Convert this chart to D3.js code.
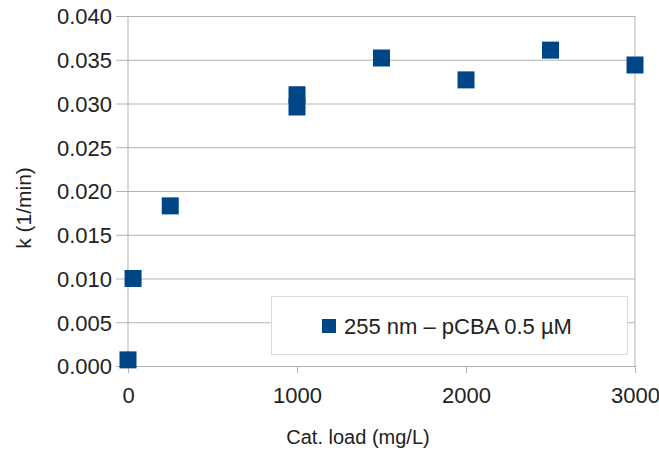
<!DOCTYPE html>
<html>
<head>
<meta charset="utf-8">
<script src="https://cdn.jsdelivr.net/npm/d3@7"></script>
<style>
  body { margin: 0; background: #fff; }
  text { font-family: "Liberation Sans", Arial, sans-serif; fill: #222; }
</style>
</head>
<body>
<div id="chart"></div>
<script>
const WIDTH = 659, HEIGHT = 450;
const margin = {top: 16, right: 24, bottom: 84, left: 128};

// data
const catLoad = [0, 30, 250, 1000, 1000, 1500, 2000, 2500, 3000];
const kValues = [0.0007, 0.0100, 0.0183, 0.0310, 0.0296, 0.0352, 0.0327, 0.0361, 0.0344];
const xTicks = [0, 1000, 2000, 3000];
const yTicks = [0, 0.005, 0.010, 0.015, 0.020, 0.025, 0.030, 0.035, 0.040];
const seriesName = "255 nm \u2013 pCBA 0.5 \u00b5M";

const MARK_COLOR = '#004586';
const GRID_COLOR = '#b3b3b3';
const MARK_SIZE = 17;

let plot_w = WIDTH - margin.left - margin.right;
let plot_h = HEIGHT - margin.top - margin.bottom;

let svg = d3.select("#chart")
    .append("svg")
    .attr("width", WIDTH)
    .attr("height", HEIGHT)
    .append("g")
    .attr("transform", `translate(${margin.left}, ${margin.top})`);

let x = d3.scaleLinear().domain([0, 3000]).range([0, plot_w]);
let y = d3.scaleLinear().domain([0, 0.04]).range([plot_h, 0]);

// horizontal grid + y tick labels
let yAxis = svg.append("g")
    .call(d3.axisLeft(y).tickValues(yTicks).tickSize(-plot_w).tickSizeOuter(0)
        .tickFormat(d3.format(".3f")).tickPadding(16));
yAxis.select(".domain").remove();
yAxis.selectAll("line").attr("stroke", GRID_COLOR).attr("x1", -12).attr("x2", plot_w);
yAxis.selectAll("text").style("font-size", "22px").attr("dy", "0.36em");

// x axis ticks
let xAxis = svg.append("g")
    .attr("transform", `translate(0, ${plot_h})`)
    .call(d3.axisBottom(x).tickValues(xTicks).tickSize(7).tickSizeOuter(0)
        .tickFormat(d3.format("d")).tickPadding(14));
xAxis.select(".domain").remove();
xAxis.selectAll("line").attr("stroke", GRID_COLOR);
xAxis.selectAll("text").style("font-size", "22px");

// left axis line and right border
svg.append("line")
    .attr("x1", x(0)).attr("x2", x(0)).attr("y1", 0).attr("y2", plot_h)
    .attr("stroke", GRID_COLOR);
svg.append("line")
    .attr("x1", x(3000)).attr("x2", x(3000)).attr("y1", 0).attr("y2", plot_h)
    .attr("stroke", GRID_COLOR);

// legend
let legend = svg.append("g");
legend.append("rect")
    .attr("x", 271.5 - margin.left).attr("y", 296.5 - margin.top)
    .attr("width", 356).attr("height", 58)
    .attr("fill", "#fff").attr("stroke", "#dadada");
legend.append("rect")
    .attr("x", 322 - margin.left).attr("y", 319 - margin.top)
    .attr("width", 14).attr("height", 14)
    .attr("fill", MARK_COLOR);
legend.append("text")
    .attr("x", 344 - margin.left).attr("y", 326 - margin.top)
    .attr("dy", "0.36em")
    .style("font-size", "22px")
    .text(seriesName);

// points
let pts = catLoad.map((c, i) => ({x: c, k: kValues[i]}));
svg.selectAll("rect.pt").data(pts).enter()
    .append("rect")
    .attr("class", "pt")
    .attr("x", d => x(d.x) - MARK_SIZE / 2)
    .attr("y", d => y(d.k) - MARK_SIZE / 2)
    .attr("width", MARK_SIZE)
    .attr("height", MARK_SIZE)
    .attr("fill", MARK_COLOR);

// axis titles
svg.append("text")
    .attr("x", 358 - margin.left)
    .attr("y", 437 - margin.top)
    .attr("dy", "0.36em")
    .style("text-anchor", "middle")
    .style("font-size", "20px")
    .text("Cat. load (mg/L)");
svg.append("text")
    .attr("transform", `translate(${23 - margin.left}, ${208 - margin.top}) rotate(-90)`)
    .attr("dy", "0.36em")
    .style("text-anchor", "middle")
    .style("font-size", "21px")
    .text("k (1/min)");
</script>
</body>
</html>
